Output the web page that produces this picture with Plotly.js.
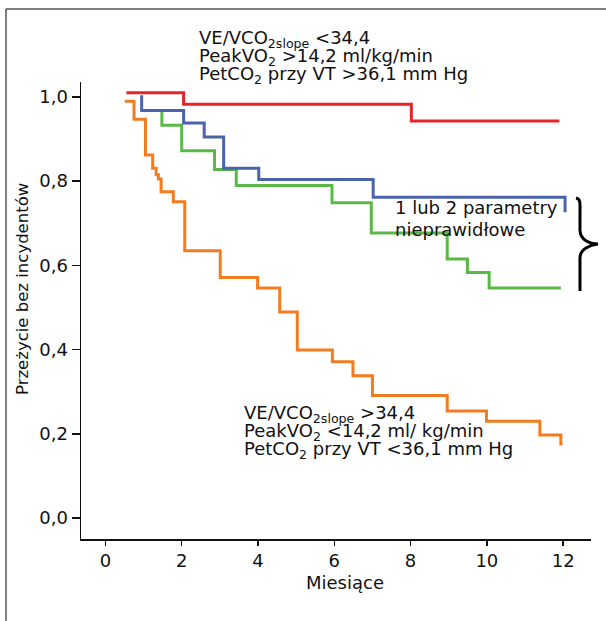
<!DOCTYPE html>
<html>
<head>
<meta charset="utf-8">
<script src="https://cdn.plot.ly/plotly-3.0.1.min.js"></script>
<style>html,body{margin:0;padding:0;background:#fff;}#chart{width:606px;height:621px;}</style>
</head>
<body>
<div id="chart"></div>
<script>
// Kaplan-Meier curves (months, survival without events)
const redX = [0.55, 2.05, 8.02, 11.9];
const redY = [1.01, 0.983, 0.943, 0.943];

const blueX = [0.95, 0.95, 2.05, 2.59, 3.10, 4.02, 7.02, 12.05, 12.05];
const blueY = [1.004, 0.968, 0.938, 0.905, 0.831, 0.804, 0.762, 0.762, 0.726];

const greenX = [1.48, 1.48, 2.00, 2.86, 3.43, 5.94, 6.97, 8.96, 9.49, 10.06, 11.94];
const greenY = [0.967, 0.933, 0.872, 0.828, 0.790, 0.749, 0.677, 0.615, 0.583, 0.546, 0.546];

const orangeX = [0.51, 0.75, 1.05, 1.24, 1.33, 1.39, 1.46, 1.78, 2.08, 3.01, 3.99, 4.57, 5.03, 5.95, 6.49, 7.00, 8.96, 9.99, 11.39, 11.94, 11.94];
const orangeY = [0.990, 0.947, 0.862, 0.831, 0.815, 0.805, 0.775, 0.751, 0.635, 0.571, 0.546, 0.489, 0.399, 0.371, 0.338, 0.291, 0.254, 0.230, 0.197, 0.197, 0.172];

const xTickVals = [0, 2, 4, 6, 8, 10, 12];
const yTickVals = [0, 0.2, 0.4, 0.6, 0.8, 1.0];
const yTickText = ['0,0', '0,2', '0,4', '0,6', '0,8', '1,0'];

const xTitle = 'Miesiące';
const yTitle = 'Przeżycie bez incydentów';
const topLines = ['VE/VCO<sub>2slope</sub> <34,4', 'PeakVO<sub>2</sub> >14,2 ml/kg/min', 'PetCO<sub>2</sub> przy VT >36,1 mm Hg'];
const bottomLines = ['VE/VCO<sub>2slope</sub> >34,4', 'PeakVO<sub>2</sub> <14,2 ml/ kg/min', 'PetCO<sub>2</sub> przy VT <36,1 mm Hg'];
const midLines = ['1 lub 2 parametry', 'nieprawidłowe'];

// layout geometry (pixels)
const W = 606, H = 621;
const M = {l: 81, r: 15, t: 82, b: 82};
const pw = W - M.l - M.r, ph = H - M.t - M.b;
const px = x => (x - M.l) / pw;
const py = y => (H - M.b - y) / ph;

const FONT = 'DejaVu Sans, sans-serif';
const line = (x, y, c) => ({x, y, type: 'scatter', mode: 'lines', line: {shape: 'hv', color: c, width: 3}, hoverinfo: 'skip', showlegend: false, cliponaxis: false});

const data = [
  line(orangeX, orangeY, '#f47c20'),
  line(greenX, greenY, '#5ab946'),
  line(blueX, blueY, '#4a63ad'),
  line(redX, redY, '#e8232a')
];

function ann(text, x, y, opts) {
  return Object.assign({text, xref: 'paper', yref: 'paper', x: px(x), y: py(y), xanchor: 'left', yanchor: 'middle', showarrow: false, font: {family: FONT, size: 18, color: '#111'}}, opts || {});
}

const annotations = [];
[36, 54, 72].forEach((yy, i) => annotations.push(ann(topLines[i], 197, yy + 3)));
[411, 429, 447].forEach((yy, i) => annotations.push(ann(bottomLines[i], 242, yy + 3)));
[208, 229].forEach((yy, i) => annotations.push(ann(midLines[i], 393, yy)));
annotations.push(ann(xTitle, 345, 582, {xanchor: 'center', font: {family: FONT, size: 18, color: '#111'}}));
annotations.push(ann(yTitle, 22, 289, {xanchor: 'center', textangle: -90, font: {family: FONT, size: 16.5, color: '#111'}}));

function pt(x, y) { return px(x).toFixed(4) + ',' + py(y).toFixed(4); }
const bracePath = 'M' + pt(576, 198) + ' C' + pt(581, 199) + ' ' + pt(580, 204) + ' ' + pt(580, 212) +
  ' L' + pt(580, 230) + ' C' + pt(580, 240) + ' ' + pt(590, 244) + ' ' + pt(598, 244) +
  ' C' + pt(590, 245) + ' ' + pt(580, 249) + ' ' + pt(580, 258) + ' L' + pt(580, 291);

const shapes = [
  {type: 'path', xref: 'paper', yref: 'paper', path: bracePath, line: {color: '#000', width: 3}},
  {type: 'line', xref: 'paper', yref: 'paper', x0: px(6), x1: px(606), y0: py(9), y1: py(9), line: {color: '#555', width: 1.5}},
  {type: 'line', xref: 'paper', yref: 'paper', x0: px(6), x1: px(6), y0: py(9), y1: py(622), line: {color: '#555', width: 1.5}}
];

const layout = {
  width: W, height: H,
  margin: M,
  paper_bgcolor: '#fff', plot_bgcolor: '#fff',
  showlegend: false,
  font: {family: FONT, size: 18, color: '#111'},
  xaxis: {
    range: [-0.64, 12.73], showgrid: false, zeroline: false,
    showline: true, linecolor: '#111', linewidth: 1.5,
    ticks: 'outside', ticklen: 5, tickwidth: 1.5, tickcolor: '#111',
    tickvals: xTickVals, ticktext: xTickVals.map(String),
    tickfont: {family: FONT, size: 18, color: '#111'}
  },
  yaxis: {
    range: [-0.05, 1.0356], showgrid: false, zeroline: false,
    showline: true, linecolor: '#111', linewidth: 1.5,
    ticks: 'outside', ticklen: 8, tickwidth: 1.5, tickcolor: '#111',
    tickvals: yTickVals, ticktext: yTickText,
    tickfont: {family: FONT, size: 18, color: '#111'}
  },
  annotations, shapes
};

Plotly.newPlot('chart', data, layout, {staticPlot: true, displayModeBar: false});
</script>
</body>
</html>
